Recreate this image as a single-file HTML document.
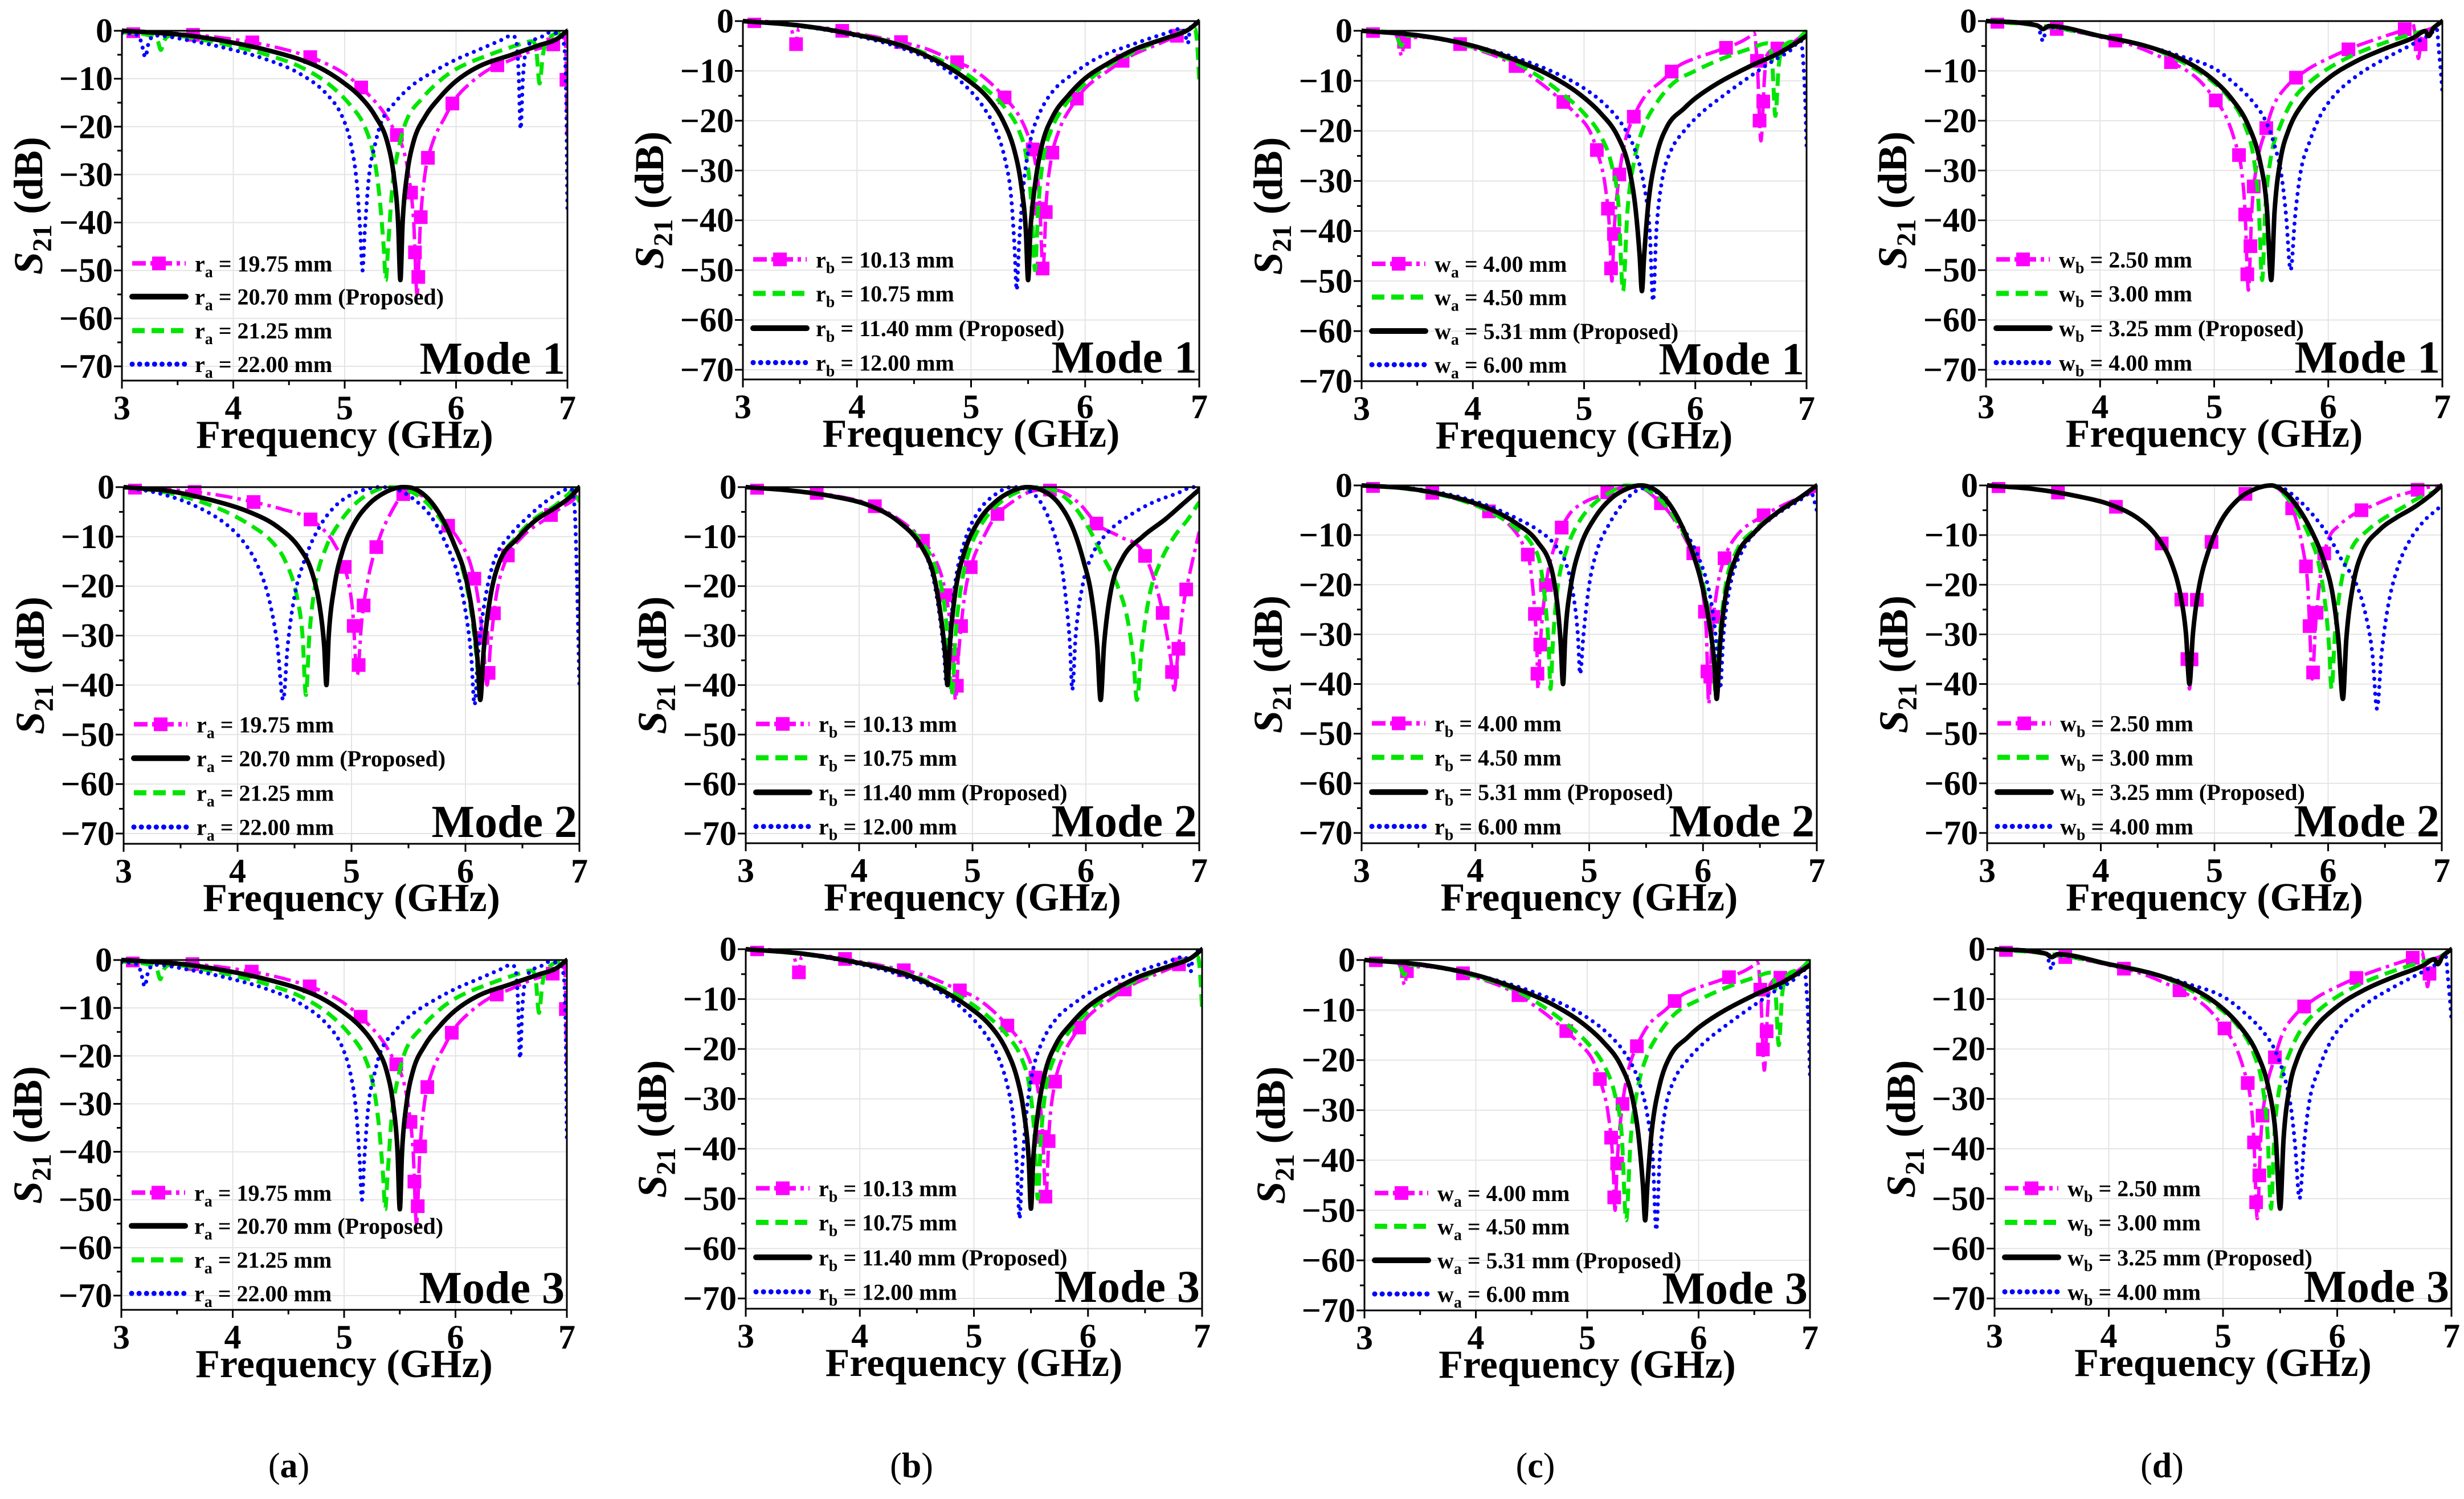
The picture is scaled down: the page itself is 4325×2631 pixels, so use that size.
<!DOCTYPE html>
<html>
<head>
<meta charset="utf-8">
<style>
html,body{margin:0;padding:0;background:#fff;}
svg{display:block;}
text{font-family:"Liberation Serif","DejaVu Serif",serif;}
</style>
</head>
<body>
<svg id="fig" xmlns="http://www.w3.org/2000/svg" width="4325" height="2631" viewBox="0 0 4325 2631">
<rect x="0" y="0" width="4325" height="2631" fill="#fff"/>
<g id="root"></g>
<text x="507" y="2593" font-size="62" text-anchor="middle">(<tspan font-weight="bold">a</tspan>)</text>
<text x="1600" y="2593" font-size="62" text-anchor="middle">(<tspan font-weight="bold">b</tspan>)</text>
<text x="2695" y="2593" font-size="62" text-anchor="middle">(<tspan font-weight="bold">c</tspan>)</text>
<text x="3795" y="2593" font-size="62" text-anchor="middle">(<tspan font-weight="bold">d</tspan>)</text>
</svg>
<script>
// ---------- Data: Mode 1 / Mode 3 (same responses) ----------
const A1m=[[3,0],[3.3,-0.3],[3.5,-0.6],[3.8,-1.2],[4,-1.8],[4.3,-3],[4.6,-4.8],[4.8,-6.5],[5,-9],[5.2,-13],[5.35,-17],[5.45,-21],[5.53,-25],[5.58,-31],[5.62,-40],[5.65,-55],[5.68,-40],[5.72,-30],[5.78,-24],[5.9,-18],[6,-14],[6.15,-10.5],[6.3,-8],[6.5,-6],[6.7,-4],[6.85,-3],[6.95,-2],[6.98,-1],[7,-22]];
const A1k=[[3,0],[3.3,-0.4],[3.6,-1],[4,-2.5],[4.3,-4],[4.6,-6],[4.8,-8],[5,-11],[5.15,-14],[5.28,-18],[5.38,-23],[5.44,-30],[5.48,-40],[5.5,-52],[5.52,-40],[5.56,-30],[5.62,-23],[5.72,-18],[5.85,-14],[6,-10.5],[6.2,-7.5],[6.5,-5],[6.75,-3],[6.9,-1.8],[7,0]];
const A1g=[[3,-0.3],[3.25,-1],[3.32,-2],[3.35,-4],[3.38,-2],[3.45,-1],[3.7,-1.8],[4,-3.2],[4.3,-5],[4.6,-7.5],[4.85,-11],[5.05,-15.5],[5.18,-20],[5.26,-26],[5.31,-34],[5.35,-45],[5.37,-52],[5.39,-45],[5.43,-32],[5.48,-25],[5.55,-19],[5.7,-14],[5.85,-10.5],[6,-8],[6.3,-5],[6.55,-3],[6.68,-2.2],[6.72,-4],[6.75,-11],[6.78,-5],[6.82,-2],[7,0]];
const A1b=[[3,-0.5],[3.15,-1],[3.18,-3],[3.21,-5.5],[3.24,-2.5],[3.3,-1],[3.6,-2],[4,-4],[4.3,-6],[4.6,-9],[4.85,-13.5],[4.98,-18],[5.06,-24],[5.11,-32],[5.14,-42],[5.16,-50],[5.18,-42],[5.22,-30],[5.27,-24],[5.33,-19],[5.45,-15],[5.6,-11.5],[5.8,-8.5],[6,-6],[6.2,-4],[6.4,-2],[6.5,-1],[6.54,-2],[6.56,-8],[6.58,-20.5],[6.6,-10],[6.63,-4],[6.75,-1.5],[6.85,-0.3],[6.93,-0.8],[6.97,-3],[6.99,-15],[7,-37]];

const B1m=[[3,0],[3.4,-0.6],[3.43,-2],[3.46,-5],[3.49,-1.5],[3.6,-1.2],[4,-2.5],[4.3,-3.8],[4.6,-5.5],[4.85,-8],[5,-9.5],[5.15,-12],[5.3,-15.5],[5.42,-19],[5.5,-23],[5.56,-28],[5.6,-36],[5.63,-50],[5.66,-36],[5.7,-28],[5.77,-22],[5.9,-16.5],[6,-13.5],[6.2,-10],[6.4,-7],[6.6,-5],[6.8,-3],[6.95,-1],[7,0]];
const B1g=[[3,0],[3.5,-1],[4,-2.7],[4.4,-4.8],[4.7,-7.5],[4.95,-10.5],[5.15,-14],[5.3,-17.5],[5.42,-22],[5.49,-28],[5.53,-37],[5.56,-50],[5.59,-37],[5.63,-28],[5.7,-22],[5.82,-17],[6,-12.5],[6.2,-9],[6.45,-6],[6.7,-3.5],[6.9,-1.8],[6.96,-1.5],[6.98,-4],[7,-12]];
const B1k=[[3,0],[3.5,-0.9],[4,-2.8],[4.4,-5],[4.7,-8],[4.95,-11.5],[5.15,-15.5],[5.28,-20],[5.38,-26],[5.44,-33],[5.48,-42],[5.5,-52],[5.52,-42],[5.56,-33],[5.62,-25],[5.72,-19],[5.85,-15],[6,-11.5],[6.2,-8.5],[6.45,-5.5],[6.7,-3.5],[6.9,-1.8],[7,0]];
const B1b=[[3,0],[3.5,-1],[4,-3],[4.4,-5.5],[4.7,-8.5],[4.95,-13],[5.1,-17],[5.22,-22],[5.3,-28],[5.35,-35],[5.38,-45],[5.4,-54],[5.42,-45],[5.46,-33],[5.52,-24],[5.6,-18.5],[5.72,-14],[5.9,-10.5],[6.1,-7.5],[6.4,-4.8],[6.7,-2.5],[6.85,-1.5],[6.88,-3],[6.9,-4.5],[6.92,-1.5],[7,0]];

const C1m=[[3,0],[3.3,-0.6],[3.33,-2],[3.36,-5],[3.39,-1.5],[3.6,-1.3],[4,-3.5],[4.3,-6],[4.55,-9.5],[4.75,-13],[4.92,-16.5],[5.05,-20],[5.13,-25],[5.19,-31],[5.23,-40],[5.25,-50],[5.27,-40],[5.31,-30],[5.37,-22],[5.45,-17],[5.55,-13],[5.7,-10],[5.85,-7],[6,-5.5],[6.2,-4],[6.4,-2.3],[6.5,-1],[6.53,-0.5],[6.56,-8],[6.59,-22],[6.62,-10],[6.64,-5],[6.75,-3.5],[6.9,-2],[7,0]];
const C1g=[[3,0],[3.3,-0.5],[3.36,-3],[3.39,-1],[3.6,-1.2],[4,-3.3],[4.3,-5.5],[4.55,-8.5],[4.8,-12.5],[5,-16.5],[5.15,-21],[5.25,-27],[5.31,-35],[5.35,-52],[5.39,-36],[5.45,-26],[5.53,-19.5],[5.65,-14.5],[5.8,-10.5],[6,-8],[6.25,-5.5],[6.5,-3.5],[6.65,-2.5],[6.69,-6],[6.72,-17],[6.75,-7],[6.8,-3],[6.9,-2],[7,0]];
const C1k=[[3,0],[3.5,-0.9],[4,-3],[4.4,-6],[4.7,-9],[4.95,-12.5],[5.15,-16.5],[5.3,-21],[5.4,-27],[5.46,-35],[5.5,-45],[5.52,-52],[5.54,-45],[5.58,-34],[5.65,-25],[5.75,-19],[5.9,-15.5],[6,-13.5],[6.2,-10.5],[6.5,-7],[6.75,-4.5],[6.9,-2.5],[7,-1]];
const C1b=[[3,0],[3.5,-1],[4,-3],[4.4,-5.5],[4.75,-8.5],[5,-11.5],[5.2,-15],[5.35,-19],[5.46,-24],[5.54,-31],[5.59,-40],[5.62,-54],[5.65,-40],[5.7,-30],[5.78,-24],[5.9,-20],[6.05,-16.5],[6.25,-13],[6.5,-9],[6.7,-6],[6.85,-4],[6.95,-2],[6.97,-6],[6.99,-15],[7,-23]];

const D1m=[[3,0],[3.3,-0.5],[3.5,-1.2],[3.8,-2.2],[4,-3.2],[4.3,-5],[4.6,-8],[4.85,-11.5],[5,-15.5],[5.1,-19],[5.18,-24],[5.24,-30],[5.27,-38],[5.3,-54],[5.33,-38],[5.38,-28],[5.45,-22],[5.52,-17],[5.62,-13.5],[5.8,-10],[6,-7.5],[6.25,-5],[6.5,-3],[6.68,-1.5],[6.74,-0.5],[6.77,-4],[6.79,-7.5],[6.82,-3],[6.9,-1.5],[7,0]];
const D1g=[[3,0],[3.5,-1],[4,-3],[4.4,-5],[4.7,-8],[4.95,-11.5],[5.15,-16],[5.27,-21],[5.35,-28],[5.39,-37],[5.42,-52],[5.45,-37],[5.5,-27],[5.58,-21],[5.7,-15.5],[5.85,-12],[6,-9.5],[6.25,-6.5],[6.5,-4.3],[6.75,-2.5],[6.9,-1.5],[7,0]];
const D1k=[[3,0],[3.45,-0.9],[3.5,-1.6],[3.55,-1],[4,-3],[4.4,-5],[4.7,-7.5],[4.95,-11],[5.15,-15.5],[5.3,-21],[5.4,-28],[5.46,-37],[5.5,-52],[5.53,-38],[5.58,-28],[5.65,-22],[5.78,-16.5],[6,-11.5],[6.25,-8],[6.5,-5.5],[6.75,-3.3],[6.85,-2],[6.88,-3],[6.92,-1.5],[7,0]];
const D1b=[[3,0],[3.45,-0.8],[3.5,-4],[3.53,-1.2],[4,-3],[4.4,-5],[4.7,-7],[5,-9.5],[5.2,-13],[5.35,-16.5],[5.45,-20],[5.53,-25],[5.59,-31],[5.63,-39],[5.67,-50],[5.71,-39],[5.76,-30],[5.84,-24],[5.93,-19],[6.05,-15],[6.25,-11],[6.5,-7.5],[6.75,-4.5],[6.9,-2.5],[6.95,-1.5],[6.97,-6],[6.99,-11],[7,-14]];

// ---------- Data: Mode 2 ----------
const A2m=[[3,0],[3.4,-0.5],[3.8,-1.5],[4.1,-2.8],[4.4,-4.5],[4.6,-6],[4.75,-8.5],[4.85,-11.5],[4.95,-17],[5.01,-25],[5.05,-38],[5.09,-27],[5.15,-18],[5.25,-10],[5.35,-5],[5.45,-1.5],[5.52,-1],[5.6,-1.5],[5.7,-3.5],[5.82,-7],[5.95,-11],[6.05,-16],[6.12,-24],[6.16,-33],[6.19,-40],[6.22,-32],[6.27,-22],[6.35,-15],[6.5,-10],[6.7,-6.5],[6.85,-4],[6.95,-2.5],[7,-1]];
const A2k=[[3,0],[3.4,-0.8],[3.8,-2.8],[4.1,-5],[4.35,-8],[4.55,-12.5],[4.65,-17],[4.72,-24],[4.76,-32],[4.78,-40],[4.8,-30],[4.85,-20],[4.92,-13],[5.02,-7.5],[5.15,-3.5],[5.3,-1],[5.45,0],[5.55,-0.3],[5.68,-2.5],[5.8,-6.5],[5.9,-11.5],[6,-18],[6.07,-27],[6.11,-36],[6.13,-43],[6.16,-33],[6.22,-22],[6.3,-15],[6.45,-10.5],[6.6,-7],[6.8,-4],[6.92,-2],[7,0]];
const A2g=[[3,0],[3.4,-1.2],[3.8,-4],[4.1,-7.5],[4.3,-11],[4.42,-15],[4.52,-22],[4.57,-30],[4.6,-42],[4.63,-30],[4.68,-20],[4.78,-12],[4.9,-7],[5.05,-3],[5.2,-0.8],[5.32,0],[5.45,-0.3],[5.6,-2],[5.75,-5.5],[5.88,-10.5],[5.98,-17],[6.05,-25],[6.1,-35],[6.13,-43],[6.16,-33],[6.22,-22],[6.3,-15],[6.45,-10],[6.6,-6.5],[6.8,-3.5],[6.9,-1.5],[6.95,-0.5],[7,-3]];
const A2b=[[3,0],[3.3,-1.2],[3.6,-3.5],[3.9,-7.5],[4.05,-11],[4.18,-16],[4.28,-23],[4.35,-32],[4.4,-43],[4.44,-32],[4.5,-22],[4.6,-14],[4.72,-8],[4.85,-4],[5,-1.5],[5.15,-0.3],[5.25,0],[5.4,-0.5],[5.55,-2.5],[5.7,-6],[5.82,-11],[5.93,-17.5],[6,-25],[6.05,-34],[6.08,-44],[6.11,-34],[6.17,-23],[6.25,-15],[6.4,-9.5],[6.55,-6],[6.7,-3],[6.85,-0.8],[6.92,-0.3],[6.96,-5],[6.98,-20],[7,-40]];

const B2m=[[3,0],[3.4,-0.6],[3.8,-1.8],[4.1,-3.5],[4.35,-6.5],[4.55,-10.5],[4.68,-15],[4.75,-20],[4.8,-27],[4.83,-35],[4.85,-43],[4.88,-33],[4.93,-22],[5,-15],[5.1,-10],[5.2,-6],[5.35,-3],[5.5,-1],[5.65,-0.5],[5.8,-1],[5.95,-3.5],[6.1,-7.5],[6.3,-10],[6.5,-13],[6.62,-20],[6.7,-28],[6.75,-35],[6.78,-41],[6.81,-34],[6.86,-24],[6.92,-17],[6.97,-12],[7,-9]];
const B2g=[[3,0],[3.4,-0.7],[3.8,-2],[4.1,-3.8],[4.35,-7],[4.55,-11],[4.67,-16],[4.74,-22],[4.78,-30],[4.82,-42],[4.85,-30],[4.9,-20],[4.97,-13],[5.08,-7.5],[5.2,-4],[5.35,-1.5],[5.5,-0.3],[5.6,0],[5.75,-1],[5.9,-4],[6.03,-8.5],[6.15,-14],[6.28,-20],[6.37,-27],[6.42,-35],[6.45,-43],[6.49,-33],[6.56,-22],[6.66,-15],[6.78,-10],[6.9,-6.5],[7,-3]];
const B2k=[[3,0],[3.4,-0.7],[3.8,-2],[4.1,-3.8],[4.35,-7],[4.55,-12],[4.66,-18],[4.72,-26],[4.76,-34],[4.78,-40],[4.8,-32],[4.85,-21],[4.93,-13],[5.05,-7],[5.2,-3],[5.35,-0.8],[5.48,0],[5.6,-0.5],[5.75,-3],[5.88,-8],[5.98,-15],[6.05,-22],[6.1,-32],[6.13,-43],[6.16,-32],[6.22,-21],[6.32,-14.5],[6.5,-10],[6.7,-6.5],[6.85,-3.5],[7,-0.5]];
const B2b=[[3,0],[3.4,-0.7],[3.8,-2],[4.1,-3.8],[4.35,-7],[4.55,-12],[4.65,-18],[4.71,-26],[4.75,-34],[4.77,-40],[4.8,-30],[4.85,-19],[4.93,-11],[5.05,-5],[5.2,-1.5],[5.35,0],[5.48,-0.5],[5.6,-3],[5.7,-8],[5.78,-15],[5.83,-24],[5.86,-32],[5.88,-41],[5.91,-30],[5.97,-20],[6.05,-14],[6.2,-9],[6.4,-5.5],[6.6,-3],[6.8,-1.3],[6.95,0],[7,0]];

const C2m=[[3,0],[3.4,-0.6],[3.8,-2.5],[4.1,-5],[4.3,-8],[4.42,-12],[4.48,-16],[4.52,-25],[4.54,-33],[4.55,-41],[4.57,-32],[4.62,-20],[4.7,-12],[4.82,-6],[4.95,-3.5],[5.1,-2],[5.2,-1],[5.32,-0.4],[5.45,-0.5],[5.58,-2.5],[5.72,-6],[5.85,-11],[5.95,-16],[6,-22],[6.03,-30],[6.05,-44],[6.08,-30],[6.13,-20],[6.2,-14],[6.3,-10],[6.5,-6.5],[6.7,-4],[6.9,-2],[7,-1]];
const C2g=[[3,0],[3.4,-0.7],[3.8,-2.5],[4.1,-5],[4.35,-8.5],[4.5,-12],[4.57,-16],[4.62,-25],[4.645,-33],[4.66,-41],[4.68,-32],[4.72,-21],[4.8,-13],[4.92,-7],[5.05,-3.5],[5.2,-1.2],[5.32,0],[5.45,-0.3],[5.58,-2],[5.72,-5.5],[5.85,-10.5],[5.97,-17],[6.05,-26],[6.09,-34],[6.11,-42],[6.14,-32],[6.2,-20],[6.3,-13],[6.45,-9],[6.65,-5.5],[6.85,-2.5],[7,0]];
const C2k=[[3,0],[3.4,-0.6],[3.8,-2.3],[4.1,-4.5],[4.35,-7.5],[4.55,-11.5],[4.67,-17],[4.72,-24],[4.75,-32],[4.77,-40],[4.79,-30],[4.84,-20],[4.92,-12.5],[5.05,-6.5],[5.2,-2.5],[5.35,-0.5],[5.45,0],[5.55,-0.5],[5.68,-3],[5.8,-7.5],[5.9,-13],[5.98,-19],[6.05,-27],[6.1,-36],[6.12,-43],[6.15,-32],[6.2,-22],[6.3,-14],[6.45,-9.5],[6.65,-5.5],[6.85,-2.5],[7,0]];
const C2b=[[3,0],[3.4,-0.5],[3.8,-2],[4.1,-4],[4.35,-6.5],[4.55,-9],[4.7,-12],[4.8,-16],[4.86,-22],[4.9,-30],[4.92,-38],[4.95,-30],[5,-20],[5.07,-13],[5.17,-8],[5.3,-3.5],[5.42,-1],[5.5,-0.5],[5.6,-1.5],[5.72,-4.5],[5.85,-9.5],[5.97,-15],[6.06,-22],[6.11,-30],[6.15,-41],[6.18,-30],[6.24,-20],[6.35,-13],[6.5,-8.5],[6.7,-5],[6.85,-3],[6.95,-1.5],[7,-5]];

const D2m=[[3,0],[3.4,-0.7],[3.8,-2.2],[4.1,-4],[4.35,-7],[4.5,-10.5],[4.62,-15.5],[4.7,-22],[4.75,-30],[4.78,-41],[4.81,-30],[4.86,-21],[4.95,-13],[5.05,-7.5],[5.2,-3],[5.35,-0.8],[5.5,0],[5.58,-1],[5.65,-3],[5.72,-7],[5.78,-13],[5.82,-20],[5.84,-30],[5.86,-39],[5.89,-28],[5.94,-17],[6,-11],[6.1,-8],[6.25,-5.5],[6.4,-4],[6.55,-2.5],[6.7,-1.5],[6.85,-0.5],[7,0]];
const D2g=[[3,0],[3.4,-0.7],[3.8,-2.2],[4.1,-4],[4.35,-7],[4.5,-10.5],[4.62,-15.5],[4.7,-22],[4.75,-30],[4.78,-40],[4.81,-30],[4.86,-21],[4.95,-13],[5.05,-7.5],[5.2,-3],[5.35,-0.8],[5.5,0],[5.6,-1.5],[5.72,-5],[5.83,-10],[5.92,-16],[5.98,-25],[6.01,-33],[6.03,-41],[6.06,-30],[6.12,-19],[6.2,-13],[6.35,-9],[6.5,-6.5],[6.65,-4.5],[6.8,-2.5],[6.95,-1],[7,0]];
const D2k=[[3,0],[3.4,-0.7],[3.8,-2.2],[4.1,-4],[4.35,-7],[4.5,-10.5],[4.62,-15.5],[4.7,-22],[4.75,-30],[4.78,-40],[4.81,-30],[4.86,-21],[4.95,-13],[5.05,-7.5],[5.2,-3],[5.35,-0.8],[5.5,0],[5.6,-1],[5.72,-4],[5.85,-9],[5.96,-15],[6.04,-22],[6.09,-31],[6.13,-43],[6.16,-31],[6.22,-20],[6.3,-13.5],[6.45,-9],[6.6,-6.5],[6.75,-4.5],[6.9,-2],[7,0]];
const D2b=[[3,0],[3.4,-0.7],[3.8,-2.2],[4.1,-4],[4.35,-7],[4.5,-10.5],[4.62,-15.5],[4.7,-22],[4.75,-30],[4.78,-40],[4.81,-30],[4.86,-21],[4.95,-13],[5.05,-7.5],[5.2,-3],[5.35,-0.8],[5.5,0],[5.6,-0.5],[5.72,-2.5],[5.85,-5.5],[6,-10],[6.12,-15],[6.25,-20],[6.33,-26],[6.39,-34],[6.43,-45],[6.47,-34],[6.53,-24],[6.62,-16],[6.72,-11],[6.85,-7],[6.95,-5],[7,-4]];

const xTicks=[3,4,5,6,7];
const yTicks=[0,-10,-20,-30,-40,-50,-60,-70];
const legendA=["19.75 mm","20.70 mm (Proposed)","21.25 mm","22.00 mm"];
const legendB=["10.13 mm","10.75 mm","11.40 mm (Proposed)","12.00 mm"];
const legendC=["4.00 mm","4.50 mm","5.31 mm (Proposed)","6.00 mm"];
const legendD=["2.50 mm","3.00 mm","3.25 mm (Proposed)","4.00 mm"];

// ---------- Layout ----------
const STY={
 m:{c:"#ff00ff",w:6,d:"30 9 6 9",cap:"butt"},
 g:{c:"#00e600",w:7,d:"22 12",cap:"butt"},
 k:{c:"#000000",w:8,d:null,cap:"round"},
 b:{c:"#0000ff",w:7,d:"0.1 13",cap:"round"}
};
const LEG_FR=[0.665,0.76,0.857,0.953];
function P(id,x0,x1,y0,y70,yb,data,order,sym,sub,labels,mode){return {id,x0,x1,y0,y70,yb,data,order,sym,sub,labels,mode};}
const panels=[
 P("a1",214,996,54,643,668,{m:A1m,k:A1k,g:A1g,b:A1b},["m","k","g","b"],"r","a",legendA,"Mode 1"),
 P("b1",1304,2105,37,649,666,{m:B1m,k:B1k,g:B1g,b:B1b},["m","g","k","b"],"r","b",legendB,"Mode 1"),
 P("c1",2390,3171,54,669,669,{m:C1m,k:C1k,g:C1g,b:C1b},["m","g","k","b"],"w","a",legendC,"Mode 1"),
 P("d1",3486,4287,37,649,666,{m:D1m,k:D1k,g:D1g,b:D1b},["m","g","k","b"],"w","b",legendD,"Mode 1"),
 P("a2",217,1017,855,1463,1481,{m:A2m,k:A2k,g:A2g,b:A2b},["m","k","g","b"],"r","a",legendA,"Mode 2"),
 P("b2",1309,2105,855,1463,1480,{m:B2m,k:B2k,g:B2g,b:B2b},["m","g","k","b"],"r","b",legendB,"Mode 2"),
 P("c2",2390,3189,852,1462,1480,{m:C2m,k:C2k,g:C2g,b:C2b},["m","g","k","b"],"r","b",legendC,"Mode 2"),
 P("d2",3488,4286,852,1462,1480,{m:D2m,k:D2k,g:D2g,b:D2b},["m","g","k","b"],"w","b",legendD,"Mode 2"),
 P("a3",213,995,1685,2274,2299,{m:A1m,k:A1k,g:A1g,b:A1b},["m","k","g","b"],"r","a",legendA,"Mode 3"),
 P("b3",1309,2110,1666,2279,2297,{m:B1m,k:B1k,g:B1g,b:B1b},["m","g","k","b"],"r","b",legendB,"Mode 3"),
 P("c3",2395,3177,1685,2300,2300,{m:C1m,k:C1k,g:C1g,b:C1b},["m","g","k","b"],"w","a",legendC,"Mode 3"),
 P("d3",3501,4303,1666,2279,2297,{m:D1m,k:D1k,g:D1g,b:D1b},["m","g","k","b"],"w","b",legendD,"Mode 3")
];
const NS="http://www.w3.org/2000/svg";
const root=document.getElementById("root");
function el(tag,attrs,parent){const e=document.createElementNS(NS,tag);for(const k in attrs)e.setAttribute(k,attrs[k]);(parent||root).appendChild(e);return e;}

function monoPath(pts){
 const n=pts.length;if(n<2)return "";
 const dx=[],s=[];for(let i=0;i<n-1;i++){dx[i]=pts[i+1][0]-pts[i][0];s[i]=(pts[i+1][1]-pts[i][1])/(dx[i]||1e-6);}
 const m=[s[0]];for(let i=1;i<n-1;i++){m[i]=(s[i-1]*s[i]<=0)?0:(s[i-1]+s[i])/2;}m[n-1]=s[n-2];
 for(let i=0;i<n-1;i++){if(s[i]===0){m[i]=0;m[i+1]=0;continue;}const a=m[i]/s[i],b=m[i+1]/s[i];const h=a*a+b*b;if(h>9){const t=3/Math.sqrt(h);m[i]=t*a*s[i];m[i+1]=t*b*s[i];}}
 let d="M"+pts[0][0].toFixed(1)+","+pts[0][1].toFixed(1);
 for(let i=0;i<n-1;i++){const h=dx[i]/3;d+=" C"+(pts[i][0]+h).toFixed(1)+","+(pts[i][1]+m[i]*h).toFixed(1)+" "+(pts[i+1][0]-h).toFixed(1)+","+(pts[i+1][1]-m[i+1]*h).toFixed(1)+" "+pts[i+1][0].toFixed(1)+","+pts[i+1][1].toFixed(1);}
 return d;
}

panels.forEach(p=>{
 const X=f=>p.x0+(f-3)/4*(p.x1-p.x0);
 const Y=db=>p.y0+(-db)/70*(p.y70-p.y0);
 const g=el("g",{});
 
 
 const cid="clip-"+p.id;
 const cp=el("clipPath",{id:cid},g);
 el("rect",{x:p.x0,y:p.y0-6,width:p.x1-p.x0,height:p.yb-p.y0+6},cp);
 xTicks.forEach(t=>{if(t>3&&t<7){const ln=el("line",{x1:X(t),x2:X(t),y1:p.y0,y2:p.yb,stroke:"#e4e4e4","stroke-width":2},g);}});
 yTicks.forEach(t=>{if(t<0&&Y(t)<p.yb-2){const ln=el("line",{x1:p.x0,x2:p.x1,y1:Y(t),y2:Y(t),stroke:"#e4e4e4","stroke-width":2},g);}});
 ["m","g","b","k"].forEach(key=>{
  const st=STY[key];const pts=p.data[key].map(d=>[X(d[0]),Y(d[1])]);
  const path=el("path",{d:monoPath(pts),fill:"none",stroke:st.c,"stroke-width":st.w,"stroke-linecap":st.cap,"stroke-linejoin":"round","clip-path":"url(#"+cid+")"},g);
  if(st.d)path.setAttribute("stroke-dasharray",st.d);
  
  
  if(key==="m"){
   const L=path.getTotalLength();
   for(let s=20;s<L;s+=105){const q=path.getPointAtLength(s);if(q.y>p.yb+2)continue;
    const r=el("rect",{x:q.x-12,y:q.y-12,width:24,height:24,fill:st.c,"clip-path":"url(#"+cid+")"},g);
    
    }
  }
 });
 const fr=el("rect",{x:p.x0,y:p.y0,width:p.x1-p.x0,height:p.yb-p.y0,fill:"none",stroke:"#000","stroke-width":3},g);
 
 
 for(let v=0;v>=-70;v-=5){const yy=Y(v);if(yy>p.yb+1)continue;const major=v%10===0;el("line",{x1:p.x0-(major?14:8),x2:p.x0,y1:yy,y2:yy,stroke:"#000","stroke-width":3},g);}
 yTicks.forEach(v=>{const t=el("text",{x:p.x0-16,y:Y(v)+20,"font-size":60,"font-weight":"bold","text-anchor":"end"},g);t.textContent=(v===0?"0":"\u2212"+(-v));});
 for(let f=3;f<=7.001;f+=0.5){const major=Math.abs(f-Math.round(f))<0.01;el("line",{x1:X(f),x2:X(f),y1:p.yb,y2:p.yb+(major?14:8),stroke:"#000","stroke-width":3},g);}
 xTicks.forEach(v=>{const t=el("text",{x:X(v),y:p.yb+68,"font-size":60,"font-weight":"bold","text-anchor":"middle"},g);t.textContent=String(v);});
 const xt=el("text",{x:(p.x0+p.x1)/2,y:p.yb+118,"font-size":70,"font-weight":"bold","text-anchor":"middle"},g);
 xt.textContent="Frequency (GHz)";
 
 
 const cy=(p.y0+p.yb)/2,cx=p.x0-140;
 const yt=el("text",{x:cx,y:cy,"font-size":72,"font-weight":"bold","text-anchor":"middle",transform:"rotate(-90 "+cx+" "+cy+")"},g);
 yt.innerHTML='<tspan font-style="italic">S</tspan><tspan font-size="48" dy="16">21</tspan><tspan dy="-16"> (dB)</tspan>';
 
 
 p.order.forEach((key,i)=>{
  const st=STY[key];const yy=p.y0+LEG_FR[i]*(p.yb-p.y0);
  const lg=el("g",{},g);
  
  
  const ln=el("line",{x1:p.x0+18,x2:p.x0+112,y1:yy,y2:yy,stroke:st.c,"stroke-width":st.w+2,"stroke-linecap":st.cap},lg);
  if(st.d)ln.setAttribute("stroke-dasharray",key==="m"?"24 8 6 8":st.d);
  if(key==="m")el("rect",{x:p.x0+53,y:yy-12,width:24,height:24,fill:st.c},lg);
  let lab;
  if(p.order[1]==="k"){lab=p.labels[{m:0,k:1,g:2,b:3}[key]];}else{lab=p.labels[{m:0,g:1,k:2,b:3}[key]];}
  const t=el("text",{x:p.x0+128,y:yy+14,"font-size":40,"font-weight":"bold"},lg);
  t.innerHTML=p.sym+'<tspan font-size="28" dy="10">'+p.sub+'</tspan><tspan dy="-10"> = '+lab+'</tspan>';
 });
 const md=el("text",{x:p.x1-4,y:p.yb-12,"font-size":80,"font-weight":"bold","text-anchor":"end"},g);
 md.textContent=p.mode;
 
 
});
</script>
</body>
</html>
